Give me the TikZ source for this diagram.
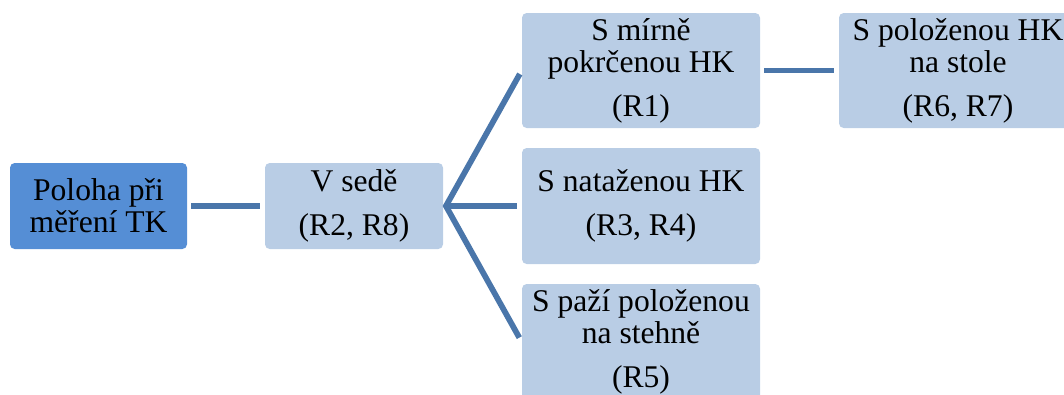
\documentclass[tikz,border=0pt]{standalone}
\usepackage{fontspec}
\setmainfont{Liberation Serif}
\definecolor{rootblue}{RGB}{85,142,213}
\definecolor{boxblue}{RGB}{185,205,229}
\definecolor{linkblue}{RGB}{74,118,170}

\begin{document}
\begin{tikzpicture}[x=0.75pt,y=-0.75pt,
    box/.style={fill=boxblue,rounded corners=3.5pt,align=center,inner sep=0pt,
      font=\fontsize{23.7}{24}\selectfont},
    rootbox/.style={box,fill=rootblue},
    link/.style={draw=linkblue,line width=4.3pt,shorten <=3pt,shorten >=3.75pt}]
      \useasboundingbox (0,0) rectangle (1064,394);
      \clip (0,0) rectangle (1064,394);
      \node [rootbox,minimum width=132.75pt,minimum height=64.5pt] (Poloha)
      at (98.5,206) {Poloha při\\měření TK};
      \node [box,minimum width=133.5pt,minimum height=64.5pt] (Sede)
      at (354,206) {V sedě\\[9pt](R2, R8)};
      \node [box,minimum width=178.5pt,minimum height=86.25pt] (Mirne)
      at (641,70.5) {S mírně\\pokrčenou HK\\[9pt](R1)};
      \node [box,minimum width=178.5pt,minimum height=87pt] (Natazenou)
      at (641,206) {S nataženou HK\\[9pt](R3, R4)};
      \node [box,minimum width=178.5pt,minimum height=87pt] (Stehno)
      at (641,342) {S paží položenou\\na stehně\\[9pt](R5)};
      \node [box,minimum width=178.5pt,minimum height=86.25pt] (Stul)
      at (958,70.5) {S položenou HK\\na stole\\[9pt](R6, R7)};
      %
      \coordinate (fork) at ([xshift=2pt]Sede.east);
      \draw [link] (Poloha) -- (Sede);
      \draw [link,miter limit=4] (Mirne.west) -- (fork) -- (Stehno.west);
      \draw [link,shorten <=0pt] (fork) -- (Natazenou.west);
      \draw [link] (Mirne) -- (Stul);
      %
    \end{tikzpicture}
\end{document}
